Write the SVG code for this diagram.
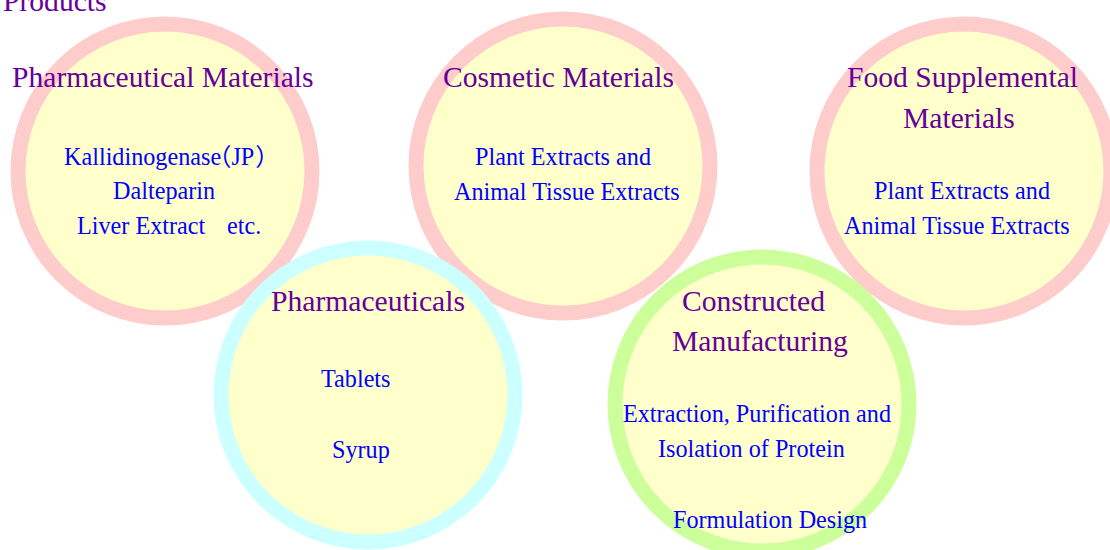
<svg xmlns="http://www.w3.org/2000/svg" width="1110" height="550" viewBox="0 0 1110 550">
<style>
.bg{fill:#ffffff}
.pink{fill:#ffffcc;stroke:#ffcccc;stroke-width:15}
.cyan{fill:#ffffcc;stroke:#ccffff;stroke-width:15}
.green{fill:#ffffcc;stroke:#ccff99;stroke-width:15}
.t{font-family:"Liberation Serif","Times New Roman",serif;font-size:29.6px;fill:#660099}
.b{font-family:"Liberation Serif","Times New Roman","Noto Sans CJK JP",serif;font-size:24.2px;fill:#0000ff}
</style>
<rect class="bg" x="0" y="0" width="1110" height="550"/>
<text class="t" x="3" y="11">Products</text>
<g id="node-pharmaceutical-materials">
<circle class="pink" cx="165" cy="171" r="147"/>
<text class="t" x="12" y="87">Pharmaceutical Materials</text>
<text class="b" x="64" y="165">Kallidinogenase<tspan dx="-14">（</tspan>JP<tspan dx="1">）</tspan></text>
<text class="b" x="113" y="199">Dalteparin</text>
<text class="b" x="77" y="234" xml:space="preserve">Liver Extract<tspan x="227">etc.</tspan></text>
</g>
<g id="node-cosmetic-materials">
<circle class="pink" cx="563" cy="166" r="147"/>
<text class="t" x="443" y="87">Cosmetic Materials</text>
<text class="b" x="475" y="165">Plant Extracts and</text>
<text class="b" x="454" y="200">Animal Tissue Extracts</text>
</g>
<g id="node-food-supplemental-materials">
<circle class="pink" cx="964" cy="171" r="147"/>
<text class="t" x="847" y="87">Food Supplemental</text>
<text class="t" x="903" y="128">Materials</text>
<text class="b" x="874" y="199">Plant Extracts and</text>
<text class="b" x="844" y="234">Animal Tissue Extracts</text>
</g>
<g id="node-pharmaceuticals">
<circle class="cyan" cx="368" cy="395" r="147"/>
<text class="t" x="271" y="311">Pharmaceuticals</text>
<text class="b" x="321" y="387">Tablets</text>
<text class="b" x="332" y="458">Syrup</text>
</g>
<g id="node-constructed-manufacturing">
<circle class="green" cx="762" cy="404" r="147"/>
<text class="t" x="682" y="311">Constructed</text>
<text class="t" x="672" y="351">Manufacturing</text>
<text class="b" x="623" y="422">Extraction, Purification and</text>
<text class="b" x="658" y="457">Isolation of Protein</text>
<text class="b" x="673" y="528">Formulation Design</text>
</g>
<g id="connectors"></g>
</svg>
